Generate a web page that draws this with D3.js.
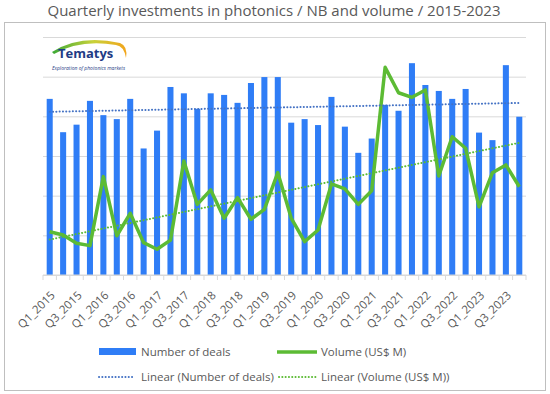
<!DOCTYPE html>
<html>
<head>
<meta charset="utf-8">
<script src="https://cdn.jsdelivr.net/npm/d3@7"></script>
<style>
  body { margin: 0; background: #fff; }
  text { font-family: "Open Sans", "Noto Sans", sans-serif; fill: #595959; }
</style>
</head>
<body>
<div id="chart"></div>
<script>
var quarters = ["Q1_2015","Q2_2015","Q3_2015","Q4_2015","Q1_2016","Q2_2016","Q3_2016","Q4_2016",
  "Q1_2017","Q2_2017","Q3_2017","Q4_2017","Q1_2018","Q2_2018","Q3_2018","Q4_2018",
  "Q1_2019","Q2_2019","Q3_2019","Q4_2019","Q1_2020","Q2_2020","Q3_2020","Q4_2020",
  "Q1_2021","Q2_2021","Q3_2021","Q4_2021","Q1_2022","Q2_2022","Q3_2022","Q4_2022",
  "Q1_2023","Q2_2023","Q3_2023","Q4_2023"];

// number of deals per quarter
var deals = [44.4, 36.0, 37.9, 43.9, 40.3, 39.3, 44.4, 31.9,
  36.4, 47.4, 45.8, 41.9, 45.8, 45.4, 43.4, 48.4,
  49.9, 49.9, 38.4, 39.3, 37.8, 44.9, 37.4, 30.8,
  34.4, 42.9, 41.4, 53.4, 47.9, 46.4, 44.4, 46.9,
  35.9, 34.0, 52.9, 39.9];

// volume in US$ M
var volume = [218, 202, 160, 148, 496, 198, 311, 163,
  130, 176, 575, 356, 429, 286, 390, 281,
  331, 516, 287, 168, 227, 459, 434, 356,
  425, 1047, 919, 896, 933, 499, 697, 639,
  344, 516, 555, 445];

var dealTicks = [0, 10, 20, 30, 40, 50, 60];

var W = 550, H = 394;
var margin = {top: 37, right: 24, bottom: 119, left: 43};
var width = W - margin.left - margin.right,
    height = H - margin.top - margin.bottom;

var svg = d3.select("#chart").append("svg")
    .attr("width", W)
    .attr("height", H);

// title
svg.append("text")
    .attr("x", 274)
    .attr("y", 16)
    .attr("text-anchor", "middle")
    .style("font-size", "15px")
    .text("Quarterly investments in photonics / NB and volume / 2015-2023");

// chart frame
svg.append("rect")
    .attr("x", 4.5).attr("y", 22.5)
    .attr("width", 541).attr("height", 368)
    .attr("fill", "none")
    .attr("stroke", "#bfbfbf")
    .attr("stroke-width", 1);

var g = svg.append("g")
    .attr("transform", "translate(" + margin.left + "," + margin.top + ")");

var x = d3.scaleBand()
    .domain(quarters)
    .range([0, width])
    .paddingInner(0.55)
    .paddingOuter(0.275);

var y = d3.scaleLinear().domain([0, 60]).range([height, 0]);
var y2 = d3.scaleLinear().domain([0, 1200]).range([height, 0]);

// gridlines
g.append("g")
    .attr("class", "grid")
    .call(d3.axisLeft(y).tickValues(dealTicks).tickSize(-width).tickFormat(""))
    .call(function(s) {
        s.select(".domain").remove();
        s.selectAll("line").attr("stroke", "#d9d9d9");
    });

// logo
var logo = svg.append("g").attr("transform", "translate(50,40)");
var grad = svg.append("defs").append("linearGradient")
    .attr("id", "swoosh").attr("x1", "0%").attr("x2", "100%");
grad.append("stop").attr("offset", "0%").attr("stop-color", "#3aa935");
grad.append("stop").attr("offset", "55%").attr("stop-color", "#c8d23a");
grad.append("stop").attr("offset", "100%").attr("stop-color", "#f2a51c");
logo.append("path")
    .attr("d", "M2,12 Q30,-6 70,3 Q78,6 76,18 Q74,6 66,5 Q30,-1 4,14 Z")
    .attr("fill", "url(#swoosh)");
logo.append("text")
    .attr("x", 8).attr("y", 18)
    .style("font-size", "13px")
    .style("font-weight", "bold")
    .style("fill", "#1f3c85")
    .text("Tematys");
logo.append("text")
    .attr("x", 2).attr("y", 30)
    .style("font-size", "5px")
    .style("font-style", "italic")
    .style("fill", "#1f3c85")
    .text("Exploration of photonics markets");

// bars
g.selectAll(".bar")
    .data(deals)
    .enter().append("rect")
    .attr("class", "bar")
    .attr("x", function(d, i) { return x(quarters[i]); })
    .attr("y", function(d) { return y(d); })
    .attr("width", x.bandwidth())
    .attr("height", function(d) { return height - y(d); })
    .attr("fill", "#2f7df6");

// x axis
var xAxis = g.append("g")
    .attr("transform", "translate(0," + height + ")");
xAxis.append("line")
    .attr("x1", 0).attr("x2", width)
    .attr("stroke", "#d9d9d9");
xAxis.selectAll(".tick")
    .data(d3.range(quarters.length + 1))
    .enter().append("line")
    .attr("x1", function(i) { return i * x.step(); })
    .attr("x2", function(i) { return i * x.step(); })
    .attr("y1", 0).attr("y2", 5)
    .attr("stroke", "#d9d9d9");
xAxis.selectAll(".lab")
    .data(quarters.filter(function(q, i) { return i % 2 == 0; }))
    .enter().append("text")
    .attr("text-anchor", "end")
    .attr("transform", function(q) {
        return "translate(" + (x(q) + x.bandwidth() / 2 + 6) + ",21) rotate(-45)";
    })
    .style("font-size", "11.5px")
    .text(function(q) { return q; });

function cx(i) { return x(quarters[i]) + x.bandwidth() / 2; }

// linear trend
function trend(vals) {
    var n = vals.length, mx = (n - 1) / 2, my = d3.mean(vals), sxy = 0, sxx = 0;
    vals.forEach(function(v, i) { sxy += (i - mx) * (v - my); sxx += (i - mx) * (i - mx); });
    var b = sxy / sxx, a = my - b * mx;
    return [a, a + b * (n - 1)];
}

// volume line
var line = d3.line()
    .x(function(d, i) { return cx(i); })
    .y(function(d) { return y2(d); });
g.append("path")
    .datum(volume)
    .attr("d", line)
    .attr("fill", "none")
    .attr("stroke", "#5cbb34")
    .attr("stroke-width", 3.5)
    .attr("stroke-linejoin", "round");

var tDeals = trend(deals), tVol = trend(volume);
g.append("line")
    .attr("x1", cx(0)).attr("x2", cx(deals.length - 1))
    .attr("y1", y(tDeals[0])).attr("y2", y(tDeals[1]))
    .attr("stroke", "#4472c4").attr("stroke-width", 2)
    .attr("stroke-dasharray", "0.1 3.2").attr("stroke-linecap", "round");
g.append("line")
    .attr("x1", cx(0)).attr("x2", cx(volume.length - 1))
    .attr("y1", y2(tVol[0])).attr("y2", y2(tVol[1]))
    .attr("stroke", "#5cbb34").attr("stroke-width", 2)
    .attr("stroke-dasharray", "0.1 3.2").attr("stroke-linecap", "round");

// legend
var legend = svg.append("g");
legend.append("rect").attr("x", 99).attr("y", 348).attr("width", 37).attr("height", 7).attr("fill", "#2f7df6");
legend.append("text").attr("x", 141).attr("y", 356).style("font-size", "11.5px").text("Number of deals");
legend.append("line").attr("x1", 277).attr("x2", 317).attr("y1", 352).attr("y2", 352)
    .attr("stroke", "#5cbb34").attr("stroke-width", 3.5);
legend.append("text").attr("x", 321).attr("y", 356).style("font-size", "11.5px").text("Volume (US$ M)");
legend.append("line").attr("x1", 99).attr("x2", 135).attr("y1", 377).attr("y2", 377)
    .attr("stroke", "#4472c4").attr("stroke-width", 2)
    .attr("stroke-dasharray", "0.1 3.2").attr("stroke-linecap", "round");
legend.append("text").attr("x", 141).attr("y", 381).style("font-size", "11.5px").text("Linear (Number of deals)");
legend.append("line").attr("x1", 279).attr("x2", 316).attr("y1", 377).attr("y2", 377)
    .attr("stroke", "#5cbb34").attr("stroke-width", 2)
    .attr("stroke-dasharray", "0.1 3.2").attr("stroke-linecap", "round");
legend.append("text").attr("x", 321).attr("y", 381).style("font-size", "11.5px").text("Linear (Volume (US$ M))");
</script>
</body>
</html>
